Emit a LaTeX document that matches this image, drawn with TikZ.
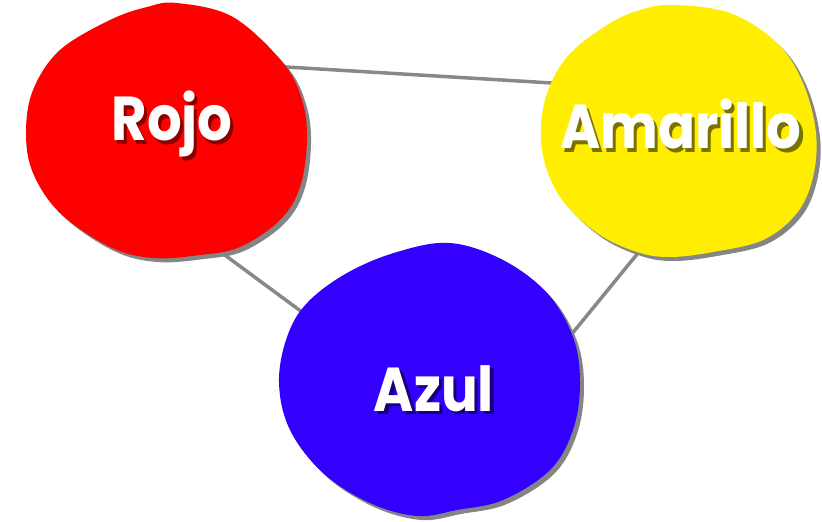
\documentclass[tikz,border=0pt]{standalone}
\usepackage{fontspec}
\newfontfamily\blobfont{Poppins}[UprightFont=* Bold]
\definecolor{rojoc}{HTML}{FF0000}
\definecolor{rojos}{HTML}{8A0000}
\definecolor{amac}{HTML}{FFEE00}
\definecolor{amas}{HTML}{7A7200}
\definecolor{azulc}{HTML}{3300FF}
\definecolor{azuls}{HTML}{1A0078}
\definecolor{linkc}{HTML}{888888}
\definecolor{shadc}{HTML}{858585}
\newcommand{\shadowtext}[2]{\scalebox{0.88}[1]{\makebox[0pt][l]{\hspace{3.5pt}\raisebox{-3.5pt}{\color{#1}#2}}#2}}
\tikzset{
  link/.style={draw=linkc, line width=3.5pt},
  blobshadow/.style={fill=shadc, draw=none},
  label/.style={font=\blobfont\fontsize{62}{66}\selectfont, text=white, inner sep=0pt},
}
\begin{document}
\begin{tikzpicture}[x=1pt,y=-1pt]
\useasboundingbox (0,0) rectangle (822,522);
% connector end points
\coordinate (r1) at (250,64.8);
\coordinate (a1) at (590,85.3);
\coordinate (r2) at (200,236.7);
\coordinate (z1) at (330,332.7);
\coordinate (a2) at (655,232.2);
\coordinate (z2) at (550,360.7);
\draw[link] (r1) -- (a1);
\draw[link] (r2) -- (z1);
\draw[link] (a2) -- (z2);
% blob shapes
\def\rojopts{(177,3) (233,17) (283,63) (302,100) (307,140) (300,187) (280,220) (240,247) (200,255) (153,258) (110,247) (60,213) (33,173) (26,133) (33,90) (60,50) (110,20) (147,7)}
\def\amapts{(673,5) (730,13) (777,43) (803,83) (816,133) (813,177) (797,213) (763,240) (713,252) (670,257) (637,252) (597,233) (560,197) (542,150) (545,100) (567,57) (607,25) (640,10)}
\def\azulpts{(450,243) (503,260) (547,293) (573,337) (580,383) (573,430) (550,470) (503,500) (457,510) (417,516) (370,503) (323,473) (290,430) (279,383) (287,337) (307,303) (347,273) (397,252)}
\begin{scope}[shift={(4,4)}]
  \fill[blobshadow] plot[smooth cycle, tension=0.6] coordinates {\rojopts};
  \fill[blobshadow] plot[smooth cycle, tension=0.6] coordinates {\amapts};
  \fill[blobshadow] plot[smooth cycle, tension=0.6] coordinates {\azulpts};
\end{scope}
\fill[rojoc] plot[smooth cycle, tension=0.6] coordinates {\rojopts};
\fill[amac] plot[smooth cycle, tension=0.6] coordinates {\amapts};
\fill[azulc] plot[smooth cycle, tension=0.6] coordinates {\azulpts};
% labels
\node[label] (rojo) at (172,126) {\shadowtext{rojos}{Rojo}};
\node[label] (amarillo) at (681,126) {\shadowtext{amas}{Amarillo}};
\node[label] (azul) at (434,390) {\shadowtext{azuls}{Azul}};
\end{tikzpicture}
\end{document}
